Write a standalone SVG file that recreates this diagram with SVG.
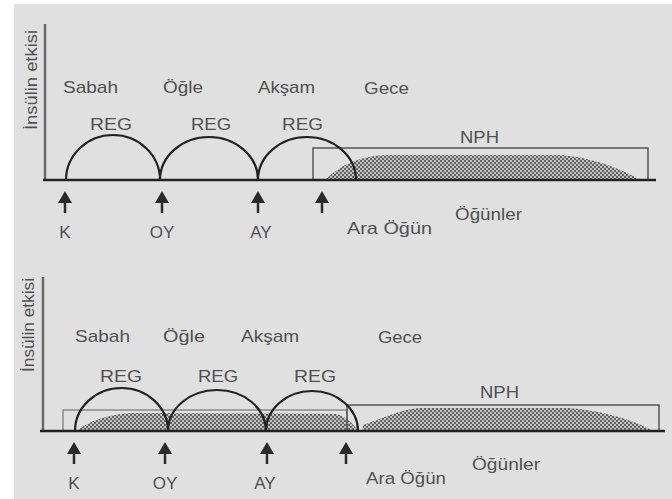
<svg xmlns="http://www.w3.org/2000/svg" xmlns:xlink="http://www.w3.org/1999/xlink" width="672" height="499" viewBox="0 0 672 499">
  <defs>
    <style>
      .lbl { font-family: "Liberation Sans", Arial, sans-serif; font-size: 17px; fill: #505050; }
      .axis { stroke: #6a6a6a; stroke-width: 2.5; fill: none; }
      .base { stroke: #222; stroke-width: 2.5; fill: none; }
      .reg { stroke: #222; stroke-width: 2.2; fill: none; }
      .box { stroke: #555; stroke-width: 1.5; fill: none; }
      .box-light { stroke: #8a8a8a; stroke-width: 1.5; fill: none; }
      .shade { fill: url(#checker); }
      .meal { stroke: #2a2a2a; stroke-width: 2.5; }
    </style>
    <!-- dithered fill for insulin action areas -->
    <pattern id="checker" width="4" height="4" patternUnits="userSpaceOnUse">
      <rect width="4" height="4" fill="#c2c2c2"/>
      <rect width="2" height="2" fill="#636363"/>
      <rect x="2" y="2" width="2" height="2" fill="#636363"/>
    </pattern>
    <!-- meal injection arrow, tip at origin -->
    <g id="arrow">
      <line class="meal" x1="0" y1="8" x2="0" y2="22"/>
      <polygon points="0,0 -7,12 7,12" fill="#2a2a2a"/>
    </g>
  </defs>

  <!-- paper -->
  <rect x="0" y="0" width="672" height="499" fill="#ffffff"/>
  <rect x="14" y="4" width="658" height="495" fill="#e0e0e0"/>

  <!-- ============ upper chart ============ -->
  <g id="chart-top">
    <g id="top-areas">
      <path class="shade" d="M325,180 C340,165 360,156 385,155 L560,155 C590,157 620,168 640,180 Z"/>
      <rect class="box" x="313" y="148" width="335" height="32"/>
    </g>
    <g id="top-axes">
      <line class="axis" x1="45" y1="24" x2="45" y2="181"/>
      <line class="base" x1="43" y1="180" x2="656" y2="180"/>
    </g>
    <g id="top-reg">
      <path class="reg" d="M66,180 A47,45 0 0 1 160,180"/>
      <path class="reg" d="M160,180 A49,43 0 0 1 258,180"/>
      <path class="reg" d="M258,180 A49,43 0 0 1 356,180"/>
    </g>
    <g id="top-arrows">
      <use xlink:href="#arrow" x="65" y="191"/>
      <use xlink:href="#arrow" x="162" y="191"/>
      <use xlink:href="#arrow" x="258" y="191"/>
      <use xlink:href="#arrow" x="322" y="191"/>
    </g>
    <g id="top-labels">
      <text class="lbl" transform="translate(37,130) rotate(-90)" textLength="100" lengthAdjust="spacingAndGlyphs">İnsülin etkisi</text>
      <text class="lbl" x="63" y="93" textLength="55" lengthAdjust="spacingAndGlyphs">Sabah</text>
      <text class="lbl" x="163" y="93" textLength="40" lengthAdjust="spacingAndGlyphs">Öğle</text>
      <text class="lbl" x="258" y="93" textLength="57" lengthAdjust="spacingAndGlyphs">Akşam</text>
      <text class="lbl" x="364" y="94" textLength="45" lengthAdjust="spacingAndGlyphs">Gece</text>
      <text class="lbl" x="90" y="130" textLength="42" lengthAdjust="spacingAndGlyphs">REG</text>
      <text class="lbl" x="191" y="130" textLength="40" lengthAdjust="spacingAndGlyphs">REG</text>
      <text class="lbl" x="282" y="130" textLength="41" lengthAdjust="spacingAndGlyphs">REG</text>
      <text class="lbl" x="460" y="143" textLength="39" lengthAdjust="spacingAndGlyphs">NPH</text>
      <text class="lbl" x="65" y="238" text-anchor="middle">K</text>
      <text class="lbl" x="162" y="238" text-anchor="middle">OY</text>
      <text class="lbl" x="261" y="238" text-anchor="middle">AY</text>
      <text class="lbl" x="347" y="234" textLength="85" lengthAdjust="spacingAndGlyphs">Ara Öğün</text>
      <text class="lbl" x="455" y="220" textLength="67" lengthAdjust="spacingAndGlyphs">Öğünler</text>
    </g>
  </g>

  <!-- ============ lower chart ============ -->
  <g id="chart-bottom">
    <g id="bottom-areas">
      <path class="shade" d="M76,431 C88,422 108,414 132,413 L336,414 C346,416 353,424 358,431 Z"/>
      <path class="shade" d="M362,431 L363,425 C385,418 400,409 420,408 L568,408 C600,410 635,420 653,431 Z"/>
      <rect class="box-light" x="63" y="410" width="284" height="21"/>
      <rect class="box" x="347" y="405" width="312" height="26"/>
    </g>
    <g id="bottom-axes">
      <line class="axis" x1="43" y1="277" x2="43" y2="432"/>
      <line class="base" x1="40" y1="431" x2="665" y2="431"/>
    </g>
    <g id="bottom-reg">
      <path class="reg" d="M75,431 A46.5,43 0 0 1 168,431"/>
      <path class="reg" d="M168,431 A49,41 0 0 1 266,431"/>
      <path class="reg" d="M266,431 A46,40 0 0 1 358,431"/>
    </g>
    <g id="bottom-arrows">
      <use xlink:href="#arrow" x="74" y="442"/>
      <use xlink:href="#arrow" x="165" y="442"/>
      <use xlink:href="#arrow" x="267" y="442"/>
      <use xlink:href="#arrow" x="346" y="442"/>
    </g>
    <g id="bottom-labels">
      <text class="lbl" transform="translate(34,372) rotate(-90)" textLength="94" lengthAdjust="spacingAndGlyphs">İnsülin etkisi</text>
      <text class="lbl" x="75" y="342" textLength="55" lengthAdjust="spacingAndGlyphs">Sabah</text>
      <text class="lbl" x="163" y="342" textLength="42" lengthAdjust="spacingAndGlyphs">Öğle</text>
      <text class="lbl" x="241" y="342" textLength="58" lengthAdjust="spacingAndGlyphs">Akşam</text>
      <text class="lbl" x="378" y="343" textLength="44" lengthAdjust="spacingAndGlyphs">Gece</text>
      <text class="lbl" x="100" y="382" textLength="42" lengthAdjust="spacingAndGlyphs">REG</text>
      <text class="lbl" x="198" y="382" textLength="40" lengthAdjust="spacingAndGlyphs">REG</text>
      <text class="lbl" x="294" y="382" textLength="42" lengthAdjust="spacingAndGlyphs">REG</text>
      <text class="lbl" x="480" y="398" textLength="39" lengthAdjust="spacingAndGlyphs">NPH</text>
      <text class="lbl" x="74" y="489" text-anchor="middle">K</text>
      <text class="lbl" x="165" y="489" text-anchor="middle">OY</text>
      <text class="lbl" x="265" y="489" text-anchor="middle">AY</text>
      <text class="lbl" x="366" y="484" textLength="80" lengthAdjust="spacingAndGlyphs">Ara Öğün</text>
      <text class="lbl" x="472" y="470" textLength="68" lengthAdjust="spacingAndGlyphs">Öğünler</text>
    </g>
  </g>
</svg>
